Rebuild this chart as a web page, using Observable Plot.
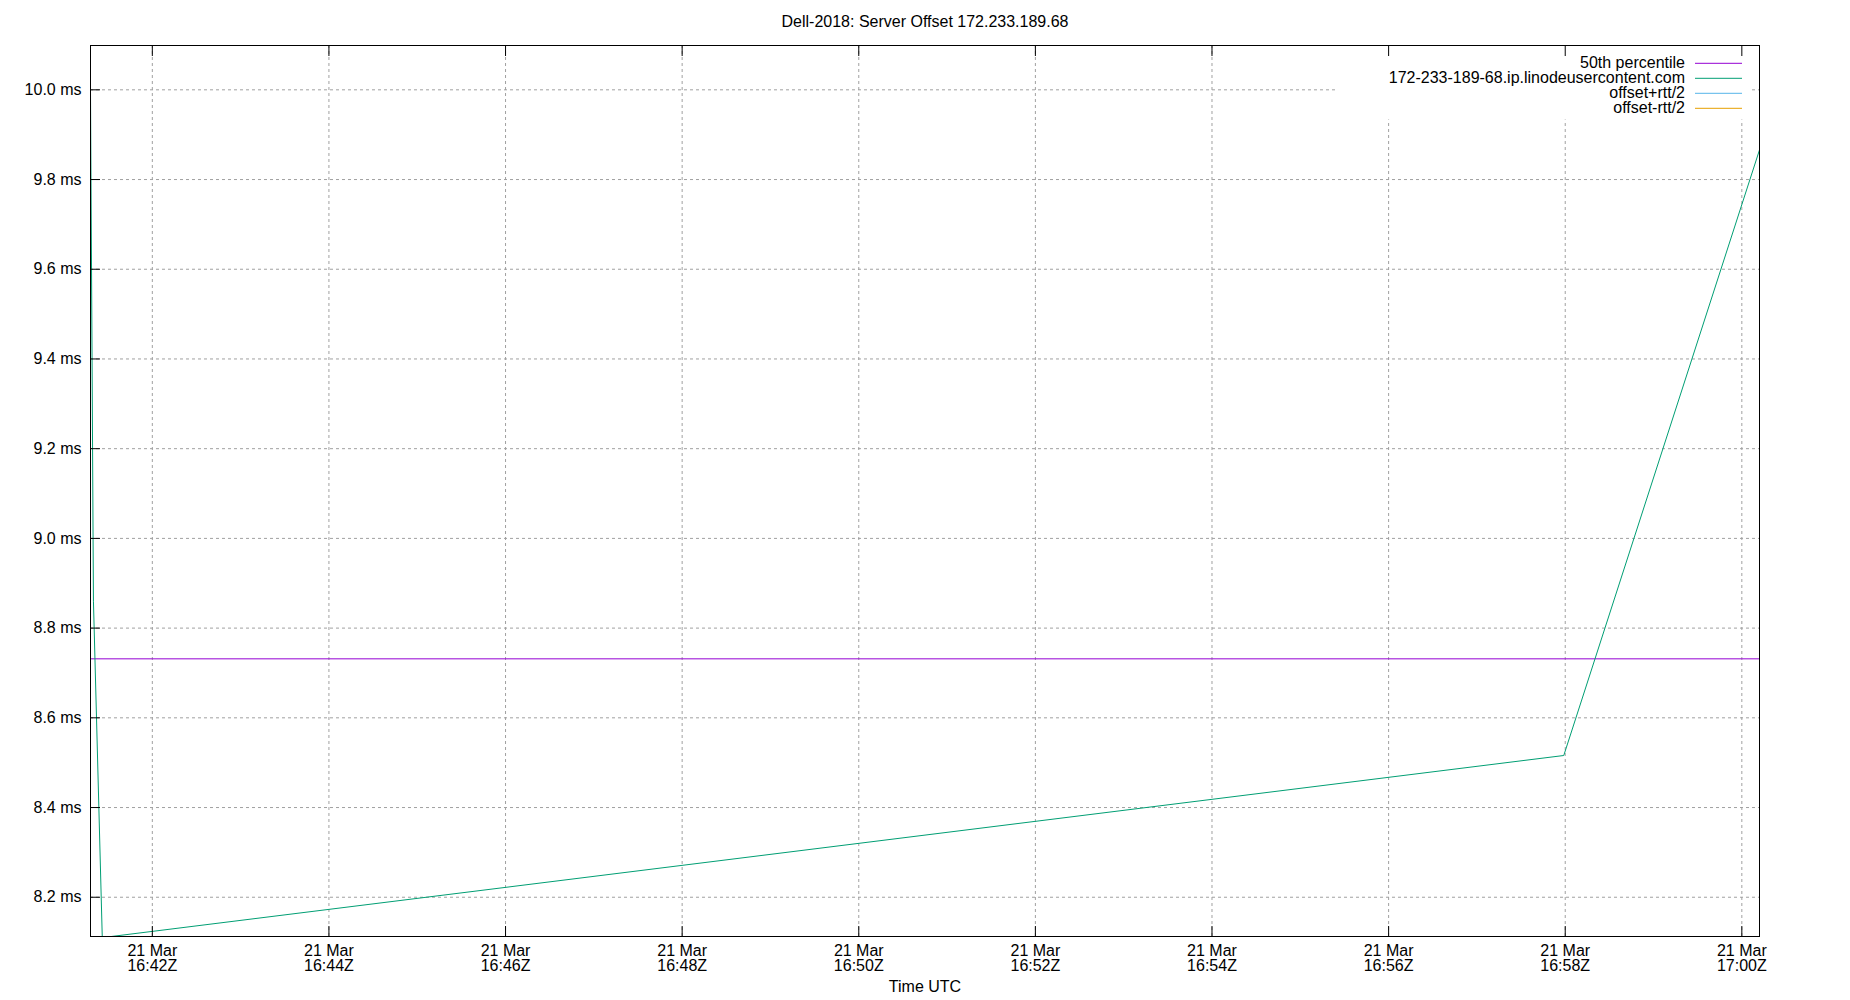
<!DOCTYPE html>
<html><head><meta charset="utf-8">
<script src="https://cdn.jsdelivr.net/npm/d3@7"></script>
<script src="https://cdn.jsdelivr.net/npm/@observablehq/plot@0.6"></script>
<style>body{margin:0;background:#fff}</style>
</head><body><div id="chart"></div>
<script>
const title = "Dell-2018: Server Offset 172.233.189.68";
const xLabel = "Time UTC";
const offsetTimes = ["2019-03-21T16:41:18Z","2019-03-21T16:41:20Z","2019-03-21T16:41:26Z","2019-03-21T16:57:59Z","2019-03-21T17:00:12Z"];
const offsetValues = [10.00, 8.86, 8.110, 8.516, 9.866];
const median50 = 8.7315;
const yTicks = [8.2, 8.4, 8.6, 8.8, 9.0, 9.2, 9.4, 9.6, 9.8, 10.0];
const xTicks = ["2019-03-21T16:42:00Z","2019-03-21T16:44:00Z","2019-03-21T16:46:00Z","2019-03-21T16:48:00Z","2019-03-21T16:50:00Z","2019-03-21T16:52:00Z","2019-03-21T16:54:00Z","2019-03-21T16:56:00Z","2019-03-21T16:58:00Z","2019-03-21T17:00:00Z"];
const yDomain = [8.1125, 10.0988];
const legendNames = ["50th percentile", "172-233-189-68.ip.linodeusercontent.com", "offset+rtt/2", "offset-rtt/2"];
const legendColors = ["#9400d3", "#009e73", "#56b4e9", "#e69f00"];

const font = "Liberation Sans, Arial, sans-serif";
const series = offsetTimes.map((t, i) => ({time: new Date(t), value: offsetValues[i]}));
const xTickDates = xTicks.map(t => new Date(t));
const fmtX = d3.utcFormat("%d %b\n%H:%MZ");
const fmtY = d => d.toFixed(1) + " ms";
const gridStyle = {stroke: "#a0a0a0", strokeOpacity: 1, strokeWidth: 1, strokeDasharray: "3,3"};

function legend(index, scales, values, dim) {
  const g = d3.create("svg:g");
  const right = dim.width - dim.marginRight;
  const top = dim.marginTop;
  g.append("rect").attr("x", right - 423).attr("y", top + 0.5).attr("width", 416).attr("height", 74).attr("fill", "white");
  legendNames.forEach((name, i) => {
    const cy = top + 18 + i * 15;
    g.append("line").attr("x1", right - 64).attr("x2", right - 17).attr("y1", cy + 0.3).attr("y2", cy + 0.3)
      .attr("stroke", legendColors[i]).attr("stroke-width", 1);
    g.append("text").attr("x", right - 74).attr("y", cy).attr("dy", "0.3em")
      .attr("text-anchor", "end").attr("font-size", 16).attr("font-family", font).attr("fill", "black").text(name);
  });
  return g.node();
}

const chart = Plot.plot({
  width: 1850,
  height: 1000,
  marginLeft: 90,
  marginRight: 91,
  marginTop: 45,
  marginBottom: 64,
  style: {fontFamily: font, fontSize: "16px", background: "white", color: "black"},
  x: {type: "utc", domain: d3.extent(series, d => d.time)},
  y: {domain: yDomain},
  marks: [
    Plot.gridX(xTickDates, gridStyle),
    Plot.gridY(yTicks, gridStyle),
    legend,
    Plot.ruleY([median50], {stroke: "#9400d3", strokeWidth: 1}),
    Plot.line(series, {x: "time", y: "value", stroke: "#009e73", strokeWidth: 1, clip: true}),
    Plot.frame({stroke: "black", strokeWidth: 1}),
    Plot.axisX(xTickDates, {anchor: "bottom", tickSize: 10, dy: -10, text: null, label: null, stroke: "black"}),
    Plot.axisX(xTickDates, {anchor: "top", tickSize: 10, dy: 10, text: null, label: null, stroke: "black"}),
    Plot.axisX(xTickDates, {anchor: "bottom", tickSize: 0, tickPadding: 9, tickFormat: fmtX, label: null, fontSize: 16, lineHeight: 0.95, fill: "black"}),
    Plot.axisY(yTicks, {anchor: "left", tickSize: 10, dx: 10, text: null, label: null, stroke: "black"}),
    Plot.axisY(yTicks, {anchor: "left", tickSize: 0, tickPadding: 9, tickFormat: fmtY, label: null, fontSize: 16, fill: "black"}),
    Plot.text([title], {frameAnchor: "top", lineAnchor: "middle", dy: -24, text: d => d, fontSize: 16, fill: "black"}),
    Plot.text([xLabel], {frameAnchor: "bottom", lineAnchor: "middle", dy: 50, text: d => d, fontSize: 16, fill: "black"})
  ]
});
document.getElementById("chart").appendChild(chart);
</script>
</body></html>
